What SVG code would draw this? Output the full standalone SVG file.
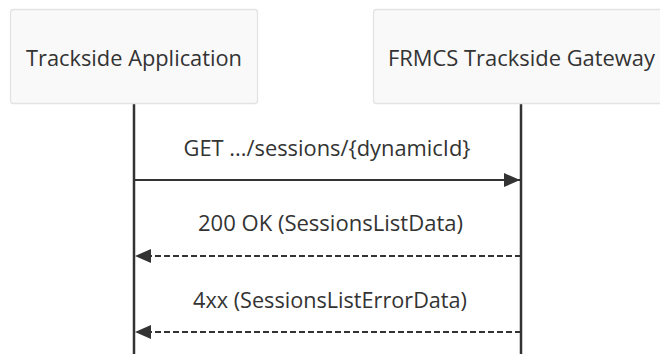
<svg xmlns="http://www.w3.org/2000/svg" width="660" height="354" viewBox="0 0 660 354">
<style>
.actor{fill:#f9f9f9;stroke:#e3e3e3;stroke-width:1.3}
.atext{font-family:"Open Sans","Noto Sans","Liberation Sans",sans-serif;font-size:21px;fill:#333;text-anchor:middle}
.mtext{font-family:"Open Sans","Noto Sans","Liberation Sans",sans-serif;font-size:21px;fill:#333;text-anchor:middle}
.life{stroke:#333;stroke-width:2.5}
.msg{stroke:#333;stroke-width:2;fill:none}
.dash{stroke-dasharray:6,3}
</style>
<defs>
<marker id="ah" viewBox="0 0 16 14" refX="16" refY="7" markerWidth="16" markerHeight="14" markerUnits="userSpaceOnUse" orient="auto">
<path d="M0,0 L16,7 L0,14 Z" fill="#333"/>
</marker>
</defs>
<rect width="660" height="354" fill="#ffffff"/>
<g id="lifelines">
<line class="life" x1="134" y1="103" x2="134" y2="354"/>
<line class="life" x1="521" y1="103" x2="521" y2="354"/>
</g>
<g id="actor-trackside-application">
<rect class="actor" x="10.5" y="9.5" width="247" height="94" rx="3"/>
<text class="atext" x="134" y="65.5" textLength="216" lengthAdjust="spacingAndGlyphs">Trackside Application</text>
</g>
<g id="actor-frmcs-gateway">
<rect class="actor" x="373.5" y="9.5" width="296" height="94" rx="3"/>
<text class="atext" x="521.5" y="65.5" textLength="267" lengthAdjust="spacingAndGlyphs">FRMCS Trackside Gateway</text>
</g>
<g id="connectors">
<line class="msg" x1="134" y1="180" x2="520" y2="180" marker-end="url(#ah)"/>
<line class="msg dash" x1="521" y1="256" x2="135" y2="256" marker-end="url(#ah)"/>
<line class="msg dash" x1="521" y1="332" x2="135" y2="332" marker-end="url(#ah)"/>
<text class="mtext" x="327" y="155.5" textLength="287" lengthAdjust="spacingAndGlyphs">GET .../sessions/{dynamicId}</text>
<text class="mtext" x="330.5" y="230.5" textLength="265" lengthAdjust="spacingAndGlyphs">200 OK (SessionsListData)</text>
<text class="mtext" x="330" y="307.5" textLength="274" lengthAdjust="spacingAndGlyphs">4xx (SessionsListErrorData)</text>
</g>
</svg>
